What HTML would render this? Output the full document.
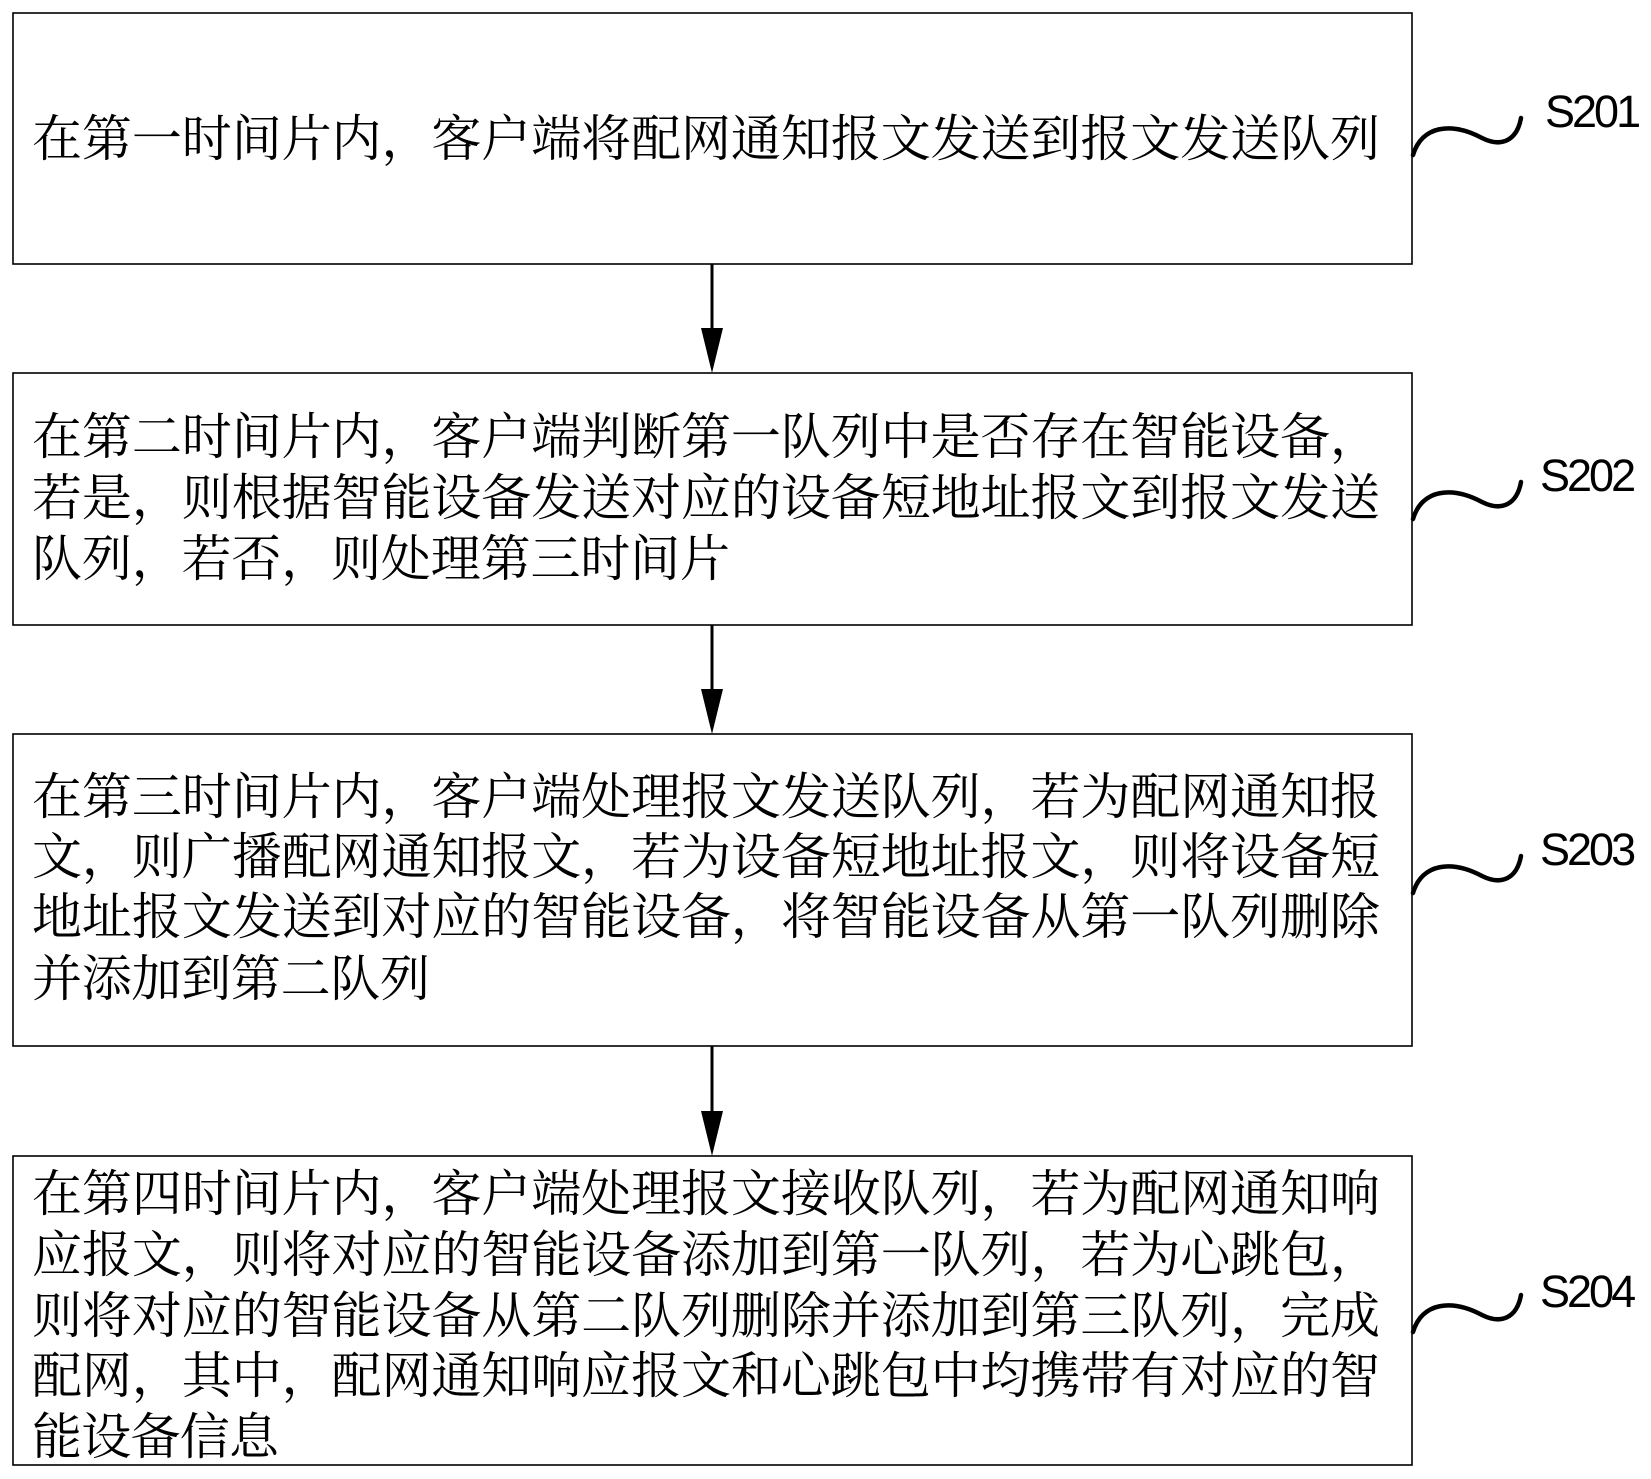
<!DOCTYPE html>
<html><head><meta charset="utf-8"><style>
html,body{margin:0;padding:0;background:#fff;}
svg{display:block;}
.t{font-family:"Noto Serif CJK SC","Noto Sans CJK SC",serif;font-size:50px;fill:#000;}
.l{font-family:"Liberation Sans",sans-serif;font-size:45px;fill:#000;letter-spacing:-3px;}
</style></head><body>
<svg width="1651" height="1479" viewBox="0 0 1651 1479" xmlns="http://www.w3.org/2000/svg">
<g fill="none" stroke="#000" stroke-width="1.6">
<rect x="13" y="13" width="1399" height="251"/>
<rect x="13" y="373" width="1399" height="252"/>
<rect x="13" y="734" width="1399" height="312"/>
<rect x="13" y="1156" width="1399" height="309"/>
</g>
<g stroke="#000" stroke-width="3">
<line x1="712" y1="264" x2="712" y2="330"/>
<line x1="712" y1="625" x2="712" y2="690"/>
<line x1="712" y1="1046" x2="712" y2="1112"/>
</g>
<g fill="#000">
<polygon points="701,328 723,328 712,373"/>
<polygon points="701,689 723,689 712,734"/>
<polygon points="701,1111 723,1111 712,1156"/>
</g>
<g fill="none" stroke="#000" stroke-width="4.5" stroke-linecap="round">
<path d="M1413,155 C1422,125 1452,122 1482,138 C1502,148 1517,140 1521,118"/>
<path d="M1413,519 C1422,489 1452,486 1482,502 C1502,512 1517,504 1521,482"/>
<path d="M1413,893 C1422,863 1452,860 1482,876 C1502,886 1517,878 1521,856"/>
<path d="M1413,1332 C1422,1302 1452,1299 1482,1315 C1502,1325 1517,1317 1521,1295"/>
</g>
<text class="l" x="1545" y="127">S201</text>
<text class="l" x="1540" y="491">S202</text>
<text class="l" x="1540" y="865">S203</text>
<text class="l" x="1540" y="1307">S204</text>
<g class="t">
<text x="32" y="156" textLength="1348" lengthAdjust="spacing">在第一时间片内，客户端将配网通知报文发送到报文发送队列</text>
<text x="32" y="454" textLength="1348" lengthAdjust="spacing">在第二时间片内，客户端判断第一队列中是否存在智能设备，</text>
<text x="32" y="515" textLength="1348" lengthAdjust="spacing">若是，则根据智能设备发送对应的设备短地址报文到报文发送</text>
<text x="32" y="576" textLength="698" lengthAdjust="spacing">队列，若否，则处理第三时间片</text>
<text x="32" y="814" textLength="1348" lengthAdjust="spacing">在第三时间片内，客户端处理报文发送队列，若为配网通知报</text>
<text x="32" y="874" textLength="1348" lengthAdjust="spacing">文，则广播配网通知报文，若为设备短地址报文，则将设备短</text>
<text x="32" y="934" textLength="1348" lengthAdjust="spacing">地址报文发送到对应的智能设备，将智能设备从第一队列删除</text>
<text x="32" y="996" textLength="398" lengthAdjust="spacing">并添加到第二队列</text>
<text x="32" y="1211" textLength="1348" lengthAdjust="spacing">在第四时间片内，客户端处理报文接收队列，若为配网通知响</text>
<text x="32" y="1272" textLength="1348" lengthAdjust="spacing">应报文，则将对应的智能设备添加到第一队列，若为心跳包，</text>
<text x="32" y="1333" textLength="1348" lengthAdjust="spacing">则将对应的智能设备从第二队列删除并添加到第三队列，完成</text>
<text x="32" y="1393" textLength="1348" lengthAdjust="spacing">配网，其中，配网通知响应报文和心跳包中均携带有对应的智</text>
<text x="32" y="1454" textLength="247" lengthAdjust="spacing">能设备信息</text>
</g>
</svg>
</body></html>
